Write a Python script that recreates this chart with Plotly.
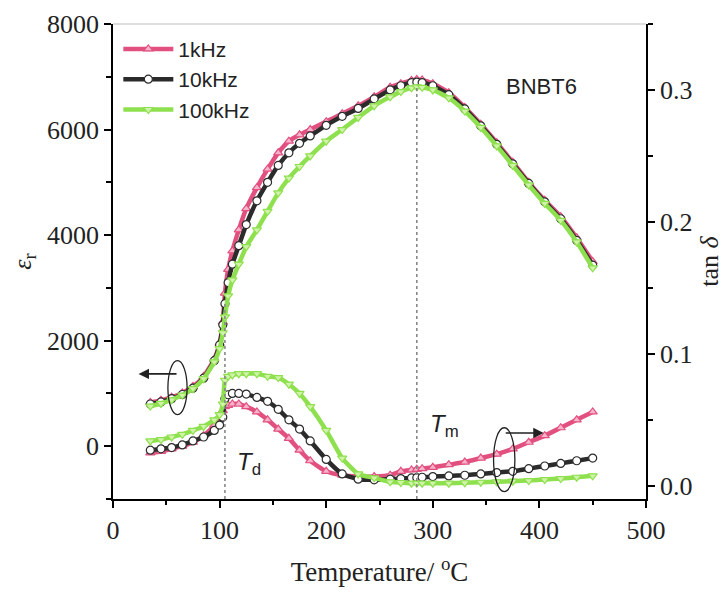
import plotly.graph_objects as go

# ---------------- data ----------------
temperature = [35, 45, 55, 65, 75, 85, 95, 100, 103, 105, 108, 112, 118, 125, 135, 145,
               155, 165, 175, 185, 200, 215, 230, 245, 260, 270, 280, 285, 290, 300,
               315, 330, 345, 360, 375, 390, 405, 420, 435, 450]

eps_1k = [830, 870, 930, 1010, 1130, 1320, 1650, 1950, 2350, 2900, 3350, 3700, 4100, 4500,
          4900, 5250, 5560, 5780, 5900, 6000, 6150, 6300, 6450, 6620, 6800, 6870, 6930,
          6950, 6940, 6870, 6700, 6420, 6100, 5750, 5380, 5000, 4660, 4350, 3950, 3500]
eps_10k = [800, 840, 900, 980, 1100, 1290, 1620, 1920, 2300, 2700, 3100, 3450, 3800, 4200,
           4650, 5000, 5320, 5560, 5740, 5880, 6080, 6250, 6400, 6580, 6750, 6830, 6890,
           6900, 6890, 6830, 6660, 6390, 6070, 5720, 5350, 4980, 4630, 4310, 3900, 3430]
eps_100k = [760, 810, 880, 970, 1090, 1280, 1600, 1850, 2150, 2450, 2850, 3150, 3450, 3780,
            4100, 4450, 4800, 5080, 5300, 5500, 5780, 6000, 6230, 6450, 6620, 6720, 6790,
            6810, 6800, 6750, 6600, 6350, 6040, 5690, 5320, 4950, 4600, 4280, 3870, 3380]

tan_1k = [0.025, 0.026, 0.028, 0.030, 0.033, 0.038, 0.046, 0.052, 0.057, 0.060, 0.061, 0.062,
          0.062, 0.060, 0.056, 0.050, 0.043, 0.036, 0.027, 0.019, 0.011, 0.008, 0.007, 0.007,
          0.008, 0.011, 0.012, 0.0125, 0.013, 0.014, 0.016, 0.018, 0.021, 0.024, 0.028,
          0.033, 0.038, 0.044, 0.050, 0.056]
tan_10k = [0.027, 0.028, 0.029, 0.031, 0.034, 0.037, 0.042, 0.046, 0.052, 0.066, 0.069, 0.070,
           0.070, 0.0695, 0.067, 0.064, 0.058, 0.050, 0.043, 0.034, 0.020, 0.009, 0.005,
           0.0045, 0.005, 0.0055, 0.006, 0.0062, 0.0065, 0.007, 0.0075, 0.008, 0.009, 0.010,
           0.011, 0.013, 0.015, 0.017, 0.019, 0.021]
tan_100k = [0.034, 0.035, 0.037, 0.039, 0.042, 0.045, 0.050, 0.054, 0.062, 0.080, 0.083, 0.084,
            0.085, 0.085, 0.085, 0.083, 0.082, 0.077, 0.070, 0.060, 0.042, 0.021, 0.009, 0.006,
            0.003, 0.0025, 0.002, 0.002, 0.002, 0.002, 0.002, 0.0023, 0.0027, 0.003, 0.0035,
            0.004, 0.0047, 0.0055, 0.0065, 0.0076]

series_names = ["1kHz", "10kHz", "100kHz"]
Td, Tm = 105, 285

# ---------------- styles ----------------
styles = [
    dict(color="#e2507f", symbol="triangle-up", fill="#f6b3cb"),
    dict(color="#2b2b2b", symbol="circle", fill="#ffffff"),
    dict(color="#8fe04f", symbol="triangle-down", fill="#cff3a8"),
]
eps_all = [eps_1k, eps_10k, eps_100k]
tan_all = [tan_1k, tan_10k, tan_100k]

fig = go.Figure()
for name, st, eps, tan in zip(series_names, styles, eps_all, tan_all):
    mk = dict(symbol=st["symbol"], size=8, color=st["fill"],
              line=dict(color=st["color"], width=1.2))
    ln = dict(color=st["color"], width=4.5, shape="spline", smoothing=0.5)
    fig.add_trace(go.Scatter(x=temperature, y=eps, name=name, mode="lines+markers",
                             line=ln, marker=mk, yaxis="y"))
    fig.add_trace(go.Scatter(x=temperature, y=tan, name=name, mode="lines+markers",
                             line=ln, marker=mk, showlegend=False, yaxis="y2"))

serif = "Liberation Serif"
sans = "Liberation Sans"

axis_common = dict(showline=True, linecolor="black", linewidth=1.5, ticks="outside",
                   ticklen=7, tickwidth=1.5, tickcolor="black", showgrid=False,
                   zeroline=False, automargin=False,
                   tickfont=dict(family=serif, size=26, color="#222"))

fig.update_layout(
    width=720, height=582,
    margin=dict(l=105, r=82, t=16, b=91),
    paper_bgcolor="white", plot_bgcolor="white",
    showlegend=True,
    legend=dict(x=0.01, y=0.99, xanchor="left", yanchor="top",
                font=dict(family=sans, size=21, color="#222"),
                bgcolor="rgba(0,0,0,0)", itemwidth=50, tracegroupgap=0),
    xaxis=dict(range=[0, 500], dtick=100, tick0=0,
               minor=dict(dtick=50, ticks="outside", ticklen=4, tickcolor="black"),
               title=dict(text="Temperature/ <sup>o</sup>C",
                          font=dict(family=serif, size=27, color="#222"), standoff=18),
               **axis_common),
    yaxis=dict(range=[-1000, 8000], tickvals=[0, 2000, 4000, 6000, 8000],
               minor=dict(dtick=1000, tick0=0, ticks="outside", ticklen=5, tickcolor="black"),
               title=dict(text="<i>ε</i><sub>r</sub>",
                          font=dict(family=serif, size=26, color="#222"), standoff=24),
               **axis_common),
    yaxis2=dict(range=[-0.01, 0.35], tickvals=[0, 0.1, 0.2, 0.3], tickformat=".1f",
                overlaying="y", side="right",
                minor=dict(dtick=0.05, tick0=0, ticks="outside", ticklen=5, tickcolor="black"),
                title=dict(text="tan <i>δ</i>",
                           font=dict(family=serif, size=26, color="#222"), standoff=8),
                **axis_common),
)

# top frame line
fig.add_shape(type="line", xref="paper", yref="paper", x0=0, x1=1, y0=1, y1=1,
              line=dict(color="#bbbbbb", width=1.2))

# vertical dotted guide lines
fig.add_shape(type="line", xref="x", yref="y", x0=Td, x1=Td, y0=-1000, y1=2700,
              line=dict(color="#888888", width=1.6, dash="dot"))
fig.add_shape(type="line", xref="x", yref="y", x0=Tm, x1=Tm, y0=-1000, y1=6850,
              line=dict(color="#888888", width=1.6, dash="dot"))

# ellipses
fig.add_shape(type="circle", xref="x", yref="y", x0=51.5, x1=69.5, y0=600, y1=1620,
              line=dict(color="#222", width=1.3))
fig.add_shape(type="circle", xref="x", yref="y", x0=357, x1=377, y0=-860, y1=350,
              line=dict(color="#222", width=1.3))

# arrows
fig.add_annotation(x=24, y=1370, ax=61, ay=1370, xref="x", yref="y", axref="x", ayref="y",
                   text="", showarrow=True, arrowhead=2, arrowsize=1.3, arrowwidth=1.6,
                   arrowcolor="#222")
fig.add_annotation(x=404, y=250, ax=367, ay=250, xref="x", yref="y", axref="x", ayref="y",
                   text="", showarrow=True, arrowhead=2, arrowsize=1.3, arrowwidth=1.6,
                   arrowcolor="#222")

# labels
fig.add_annotation(x=128, y=-330, xref="x", yref="y", showarrow=False,
                   text="<i>T</i><sub>d</sub>", font=dict(family=sans, size=24, color="#222"))
fig.add_annotation(x=311, y=400, xref="x", yref="y", showarrow=False,
                   text="<i>T</i><sub>m</sub>", font=dict(family=sans, size=24, color="#222"))
fig.add_annotation(x=0.875, y=0.9, xref="paper", yref="paper", showarrow=False,
                   text="BNBT6", font=dict(family=sans, size=22, color="#222"))

fig.write_html("out.html")
